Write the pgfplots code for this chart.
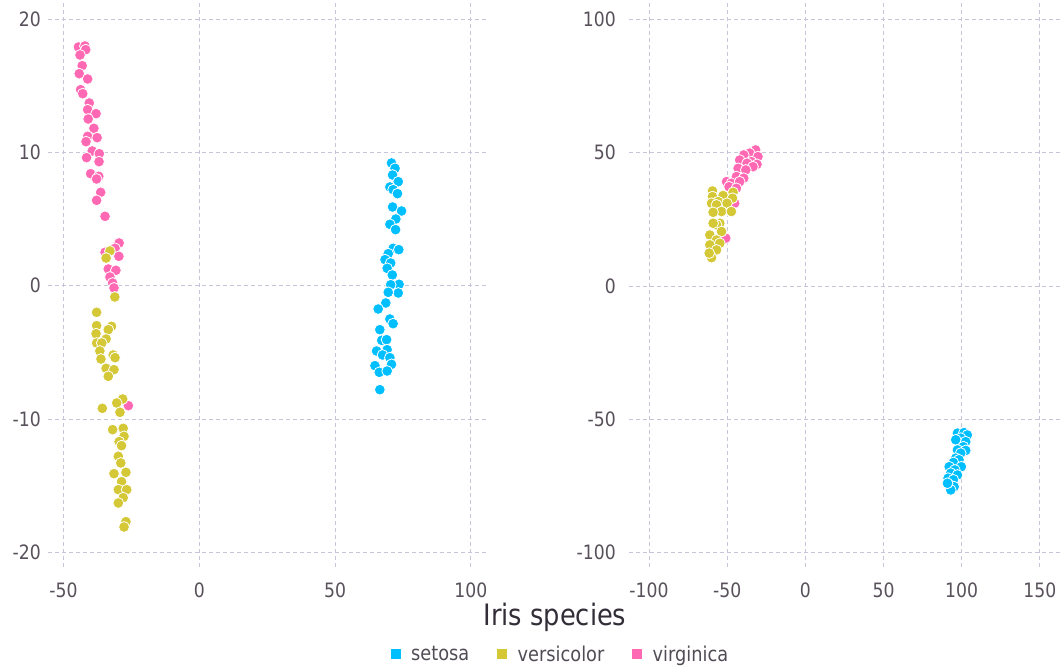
\documentclass[border=0pt]{standalone}
\usepackage{fontspec}
\usepackage{pgfplots}
\pgfplotsset{compat=1.18}
\newfontfamily\tah{DejaVu Sans}[FakeStretch=0.87]
\definecolor{setosa}{RGB}{0,191,255}
\definecolor{versicolor}{RGB}{212,200,55}
\definecolor{virginica}{RGB}{255,105,180}
\definecolor{gridc}{RGB}{198,198,218}
\definecolor{tickc}{RGB}{88,80,90}
\definecolor{titlec}{RGB}{50,45,55}
\newcommand\tickfont{\tah\fontsize{19.8}{20}\selectfont}
\pgfplotsset{
  irisax/.style={
    scale only axis, height=564pt,
    axis line style={draw=none},
    major tick length=0pt,
    grid=major,
    major grid style={gridc, dash pattern=on 4pt off 3pt, line width=0.8pt},
    tick label style={font=\tickfont, text=tickc},
    xticklabel style={inner sep=0pt, anchor=north, yshift=-16pt},
    yticklabel style={inner sep=0pt, anchor=east, xshift=-7pt},
    legend image code/.code={\fill (0pt,-4.5pt) rectangle (9pt,4.5pt);},
  },
  pt/.style={only marks, mark=*, mark size=5.4pt, color=#1,
    mark options={draw=white, fill=#1, line width=0.8pt}},
}
\begin{document}
\begin{tikzpicture}[x=1pt,y=1pt]
\useasboundingbox (0,0) rectangle (1061,668);
\begin{axis}[irisax, at={(48pt,101pt)}, anchor=south west, width=438pt,
  xmin=-55.7, xmax=105.6, ymin=-21.1, ymax=21.2,
  xtick={-50,0,50,100}, xticklabels={-50,0,50,100},
  ytick={-20,-10,0,10,20}, yticklabels={-20,-10,0,10,20},
  reverse legend,
  legend columns=3,
  legend style={at={(axis description cs:1.1678,-0.1543)}, anchor=center,
    draw=none, fill=none, font=\tah\fontsize{20.4}{22}\selectfont, text=titlec!85!white,
    nodes={inner sep=0pt},
    /tikz/every even column/.append style={column sep=28pt},
    /tikz/every odd column/.append style={column sep=11pt}},
]
\addplot[pt=virginica] coordinates {
(-44.5,17.9) (-42.1,17.98) (-41.8,17.7) (-43.9,17.3) (-43.1,16.5) (-44.2,15.9) (-41.1,15.5) (-43.7,14.7) (-42.9,14.4) (-40.5,13.7) (-41.1,13.2) (-38.0,12.9) (-40.9,12.5) (-38.8,11.8) (-41.1,11.2) (-37.6,11.1) (-41.7,10.8) (-39.4,10.1) (-36.8,9.9) (-41.5,9.6) (-36.9,9.3) (-40.0,8.4) (-37.0,8.2) (-37.8,8.0) (-36.3,7.0) (-37.8,6.4) (-34.7,5.2) (-29.8,3.2) (-29.5,3.2) (-31.0,2.8) (-34.7,2.5) (-29.6,2.2) (-33.5,1.25) (-30.7,1.15) (-32.9,0.65) (-31.9,0.2) (-31.4,-0.17) (-26.1,-9.0)
};
\addlegendentry{virginica}
\addplot[pt=versicolor] coordinates {
(-32.9,2.6) (-34.3,2.07) (-31.1,-0.85) (-37.8,-2.0) (-37.8,-3.0) (-32.3,-3.05) (-33.5,-3.3) (-38.0,-3.6) (-37.8,-4.3) (-34.3,-4.0) (-35.9,-4.3) (-36.6,-4.9) (-31.7,-5.2) (-36.2,-5.5) (-31.0,-5.4) (-34.3,-6.2) (-31.4,-6.3) (-33.5,-6.8) (-28.2,-8.5) (-30.4,-8.8) (-35.7,-9.2) (-29.2,-9.5) (-31.9,-10.8) (-28.0,-10.7) (-27.7,-11.3) (-29.5,-11.7) (-28.6,-12.0) (-29.8,-12.8) (-28.9,-13.3) (-31.4,-14.1) (-27.0,-14.0) (-28.6,-14.7) (-29.8,-15.3) (-26.7,-15.3) (-28.0,-15.9) (-29.8,-16.3) (-27.0,-17.7) (-27.7,-18.1)
};
\addlegendentry{versicolor}
\addplot[pt=setosa] coordinates {
(70.8,9.2) (72.1,8.8) (71.2,8.3) (73.3,7.8) (70.2,7.4) (71.4,7.2) (73.0,6.9) (71.2,5.9) (74.5,5.6) (72.4,5.0) (70.2,4.6) (72.3,4.2) (71.4,2.8) (73.5,2.7) (69.6,2.4) (68.4,1.95) (70.5,1.7) (69.2,1.3) (71.1,0.8) (73.6,0.1) (70.5,0.07) (73.3,-0.55) (69.6,-0.5) (68.7,-1.3) (65.9,-1.75) (70.2,-2.5) (71.4,-2.85) (66.5,-3.3) (67.2,-4.1) (69.0,-4.05) (65.3,-4.9) (69.2,-4.8) (67.5,-5.2) (70.2,-5.4) (70.8,-5.9) (64.7,-6.0) (66.3,-6.5) (69.2,-6.4) (66.5,-7.8)
};
\addlegendentry{setosa}
\end{axis}
\begin{axis}[irisax, at={(629pt,101pt)}, anchor=south west, width=431pt,
  xmin=-112.8, xmax=162.9, ymin=-105.4, ymax=106.1,
  xtick={-100,-50,0,50,100,150}, xticklabels={-100,-50,0,50,100,150},
  ytick={-100,-50,0,50,100}, yticklabels={-100,-50,0,50,100},
  yticklabel style={xshift=-6pt},
]
\addplot[pt=virginica] coordinates {
(-31.8,51.0) (-35.6,49.8) (-30.3,48.5) (-39.4,49.1) (-42.0,47.2) (-34.5,46.6) (-30.9,45.6) (-37.3,46.0) (-43.0,44.1) (-33.5,44.7) (-38.1,43.5) (-44.1,41.0) (-39.4,40.4) (-50.4,39.1) (-47.3,38.5) (-42.0,39.1) (-48.8,37.2) (-44.1,36.6) (-45.2,31.0) (-50.9,17.9)
};
\addplot[pt=versicolor] coordinates {
(-59.4,35.6) (-59.4,33.5) (-52.6,33.9) (-46.2,35.1) (-46.6,32.9) (-55.8,31.6) (-60.0,31.0) (-56.8,30.4) (-50.1,31.0) (-53.6,27.9) (-59.0,27.6) (-47.3,27.9) (-54.7,23.5) (-56.8,22.9) (-59.0,23.5) (-53.6,20.4) (-61.1,19.1) (-56.8,17.2) (-54.7,16.0) (-61.1,15.4) (-56.8,13.5) (-60.0,10.6) (-61.5,12.3)
};
\addplot[pt=setosa] coordinates {
(97.3,-55.2) (101.5,-55.0) (103.6,-55.9) (99.4,-57.1) (96.2,-57.7) (102.6,-58.4) (101.1,-60.3) (97.3,-61.5) (102.6,-61.7) (99.4,-62.7) (96.2,-64.6) (98.3,-65.2) (94.7,-66.2) (99.8,-67.8) (92.0,-67.8) (95.6,-69.0) (93.0,-70.2) (97.3,-70.9) (91.3,-72.1) (94.7,-72.7) (92.0,-74.6) (95.2,-75.3) (93.0,-76.5) (90.9,-74.0)
};
\end{axis}
\node[font=\tah\fontsize{29.5}{30}\selectfont, text=titlec, anchor=base] at (555,42) {Iris species};
\end{tikzpicture}
\end{document}
